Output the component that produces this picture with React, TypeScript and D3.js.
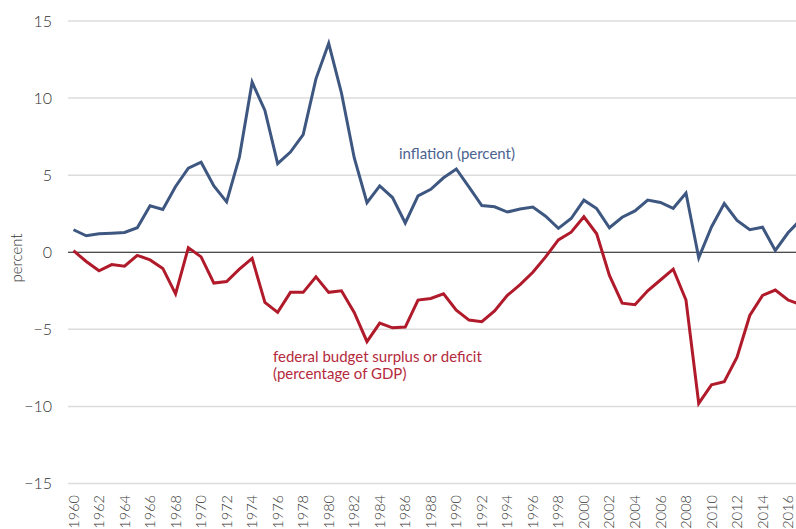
import React, { useEffect, useRef } from 'react';
import * as d3 from 'd3';

const years = d3.range(1960, 2018);

const inflation = [
  1.46, 1.07, 1.2, 1.24, 1.28, 1.59, 3.01, 2.78, 4.27, 5.46,
  5.84, 4.3, 3.27, 6.16, 11.03, 9.2, 5.75, 6.5, 7.63, 11.25,
  13.55, 10.33, 6.13, 3.21, 4.3, 3.55, 1.9, 3.66, 4.08, 4.83,
  5.4, 4.23, 3.03, 2.95, 2.61, 2.81, 2.93, 2.34, 1.55, 2.19,
  3.38, 2.83, 1.59, 2.27, 2.68, 3.39, 3.23, 2.85, 3.84, -0.36,
  1.64, 3.16, 2.07, 1.46, 1.62, 0.12, 1.26, 2.13,
];

const budget = [
  0.1, -0.6, -1.2, -0.8, -0.9, -0.2, -0.5, -1.05, -2.7, 0.3,
  -0.3, -2.0, -1.9, -1.1, -0.4, -3.25, -3.9, -2.6, -2.6, -1.6,
  -2.6, -2.5, -3.9, -5.8, -4.6, -4.9, -4.85, -3.1, -3.0, -2.7,
  -3.75, -4.4, -4.5, -3.8, -2.8, -2.1, -1.3, -0.3, 0.8, 1.3,
  2.3, 1.2, -1.5, -3.3, -3.4, -2.5, -1.8, -1.1, -3.1, -9.8,
  -8.6, -8.4, -6.8, -4.1, -2.8, -2.45, -3.1, -3.4,
];

const yTicks = [15, 10, 5, 0, -5, -10, -15];
const xTicks = d3.range(1960, 2018, 2);

const W = 796;
const H = 529;
const FONT = 'Lato, "Open Sans", sans-serif';

const App: React.FC = () => {
  const svgRef = useRef<SVGSVGElement>(null);

  useEffect(() => {
    if (!svgRef.current) return;
    const svg = d3.select(svgRef.current);
    svg.selectAll('*').remove();

    const x = d3.scaleLinear().domain([1960, 2017]).range([73.5, 73.5 + 57 * 12.76]);
    const y = d3.scaleLinear().domain([-15, 15]).range([483.5, 21]);
    const gridLeft = 68;

    // grid
    svg
      .append('g')
      .selectAll('line')
      .data(yTicks.filter((d) => d !== 0))
      .join('line')
      .attr('x1', gridLeft)
      .attr('x2', W)
      .attr('y1', (d) => y(d))
      .attr('y2', (d) => y(d))
      .attr('stroke', '#dcdcdc')
      .attr('stroke-width', 1.5);

    svg
      .append('line')
      .attr('x1', gridLeft)
      .attr('x2', W)
      .attr('y1', y(0))
      .attr('y2', y(0))
      .attr('stroke', '#111')
      .attr('stroke-width', 1.2);

    // y tick labels
    svg
      .append('g')
      .selectAll('text')
      .data(yTicks)
      .join('text')
      .attr('x', 52)
      .attr('y', (d) => y(d))
      .attr('dy', '0.35em')
      .attr('text-anchor', 'end')
      .attr('font-family', FONT)
      .attr('font-size', 16)
      .attr('font-weight', 300)
      .attr('fill', '#333')
      .text((d) => (d < 0 ? '\u2212' + Math.abs(d) : String(d)));

    // x tick labels
    svg
      .append('g')
      .selectAll('text')
      .data(xTicks)
      .join('text')
      .attr('transform', (d) => `translate(${x(d)},495) rotate(-90)`)
      .attr('dy', '0.35em')
      .attr('text-anchor', 'end')
      .attr('font-family', FONT)
      .attr('font-size', 14.5)
      .attr('font-weight', 300)
      .attr('fill', '#333')
      .text((d) => String(d));

    svg
      .append('text')
      .attr('transform', 'translate(17,258) rotate(-90)')
      .attr('dy', '0.35em')
      .attr('text-anchor', 'middle')
      .attr('font-family', FONT)
      .attr('font-size', 15)
      .attr('font-weight', 300)
      .attr('fill', '#333')
      .text('percent');

    const line = d3
      .line<number>()
      .x((_, i) => x(years[i]))
      .y((d) => y(d));

    svg
      .append('path')
      .datum(inflation)
      .attr('d', line)
      .attr('fill', 'none')
      .attr('stroke', '#3e5781')
      .attr('stroke-width', 3)
      .attr('stroke-linejoin', 'miter');

    svg
      .append('path')
      .datum(budget)
      .attr('d', line)
      .attr('fill', 'none')
      .attr('stroke', '#b01a2a')
      .attr('stroke-width', 3)
      .attr('stroke-linejoin', 'miter');

    svg
      .append('text')
      .attr('x', 399)
      .attr('y', 159)
      .attr('font-family', FONT)
      .attr('font-size', 15)
      .attr('fill', '#4b6390')
      .text('inflation (percent)');

    const note = svg
      .append('text')
      .attr('x', 273)
      .attr('y', 362)
      .attr('font-family', FONT)
      .attr('font-size', 15)
      .attr('fill', '#b42a3c');
    note.append('tspan').attr('x', 273).text('federal budget surplus or deficit');
    note.append('tspan').attr('x', 273).attr('dy', 17).text('(percentage of GDP)');
  }, []);

  return (
    <svg
      ref={svgRef}
      width={W}
      height={H}
      style={{ position: 'absolute', left: 0, top: 0, background: '#fff' }}
    />
  );
};

export default App;
